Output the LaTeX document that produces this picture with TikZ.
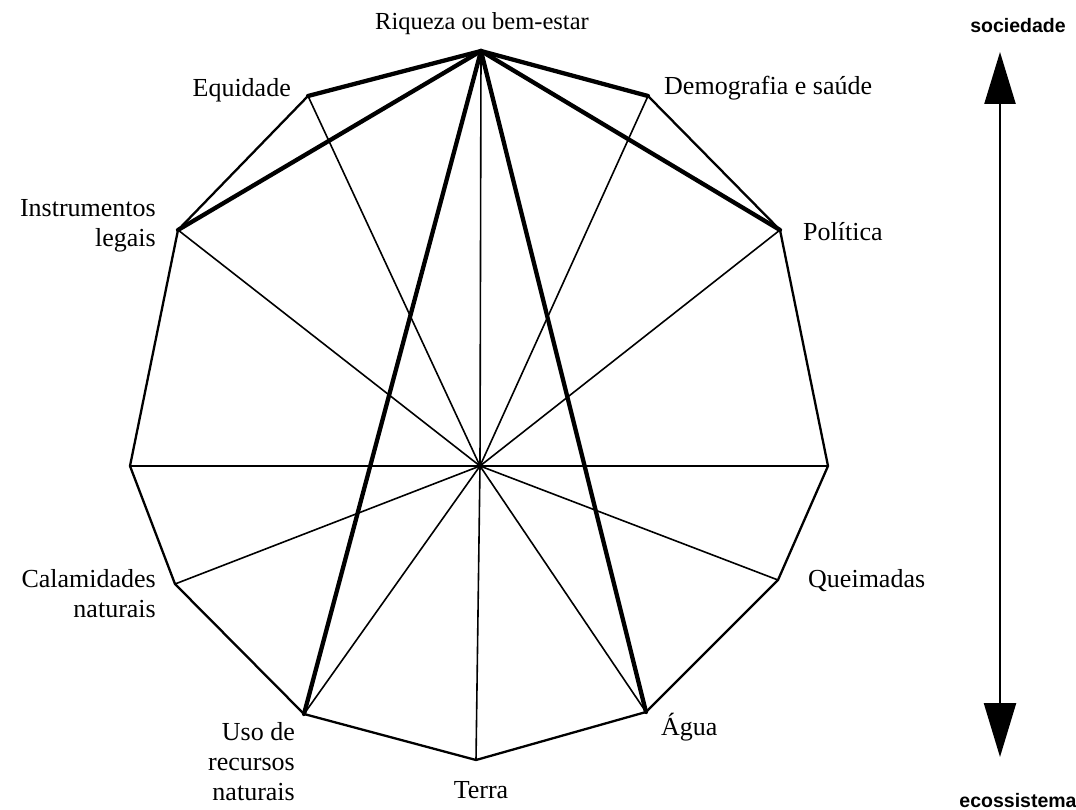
\documentclass[tikz,border=0pt]{standalone}
\usepackage{fontspec}
\setmainfont{Liberation Serif}
\setsansfont{Liberation Sans}
\usetikzlibrary{arrows.meta}
\begin{document}
\begin{tikzpicture}[x=1pt,y=-1pt,
  edge/.style={line width=2.3pt,line join=round},
  spoke/.style={line width=1.6pt},
  heavy/.style={line width=4.3pt,line cap=round},
  lbl/.style={font=\fontsize{26}{30}\selectfont,inner sep=0pt,align=right},
  lbll/.style={font=\fontsize{26}{30}\selectfont,inner sep=0pt,align=left},
  axislbl/.style={font=\sffamily\bfseries\fontsize{19.5}{22}\selectfont,inner sep=0pt}]
\useasboundingbox (0,0) rectangle (1076,810);

% vertices of the twelve-sided figure
\coordinate (c)  at (480,466);
\coordinate (v0) at (481,51);
\coordinate (v1) at (648,96);
\coordinate (v2) at (780,230);
\coordinate (v3) at (828,466);
\coordinate (v4) at (778,580);
\coordinate (v5) at (646,712);
\coordinate (v6) at (476,760);
\coordinate (v7) at (304,714);
\coordinate (v8) at (175,584);
\coordinate (v9) at (130,466);
\coordinate (v10) at (178,230);
\coordinate (v11) at (308,96);

% spokes
\foreach \i in {0,...,11} \draw[spoke] (c) -- (v\i);

% outline
\draw[edge] (v1) -- (v2) -- (v3) -- (v4) -- (v5) -- (v6) -- (v7) -- (v8) -- (v9) -- (v10) -- (v11);

% heavy links from the top vertex
\foreach \j in {1,2,5,7,10,11} \draw[heavy] (v0) -- (v\j);

% labels
\node[lbl,anchor=base,font=\fontsize{24.5}{30}\selectfont] (l0) at (482,30) {Riqueza ou bem-estar};
\node[lbll,anchor=west] (l1) at (664,88) {Demografia e saúde};
\node[lbll,anchor=west] (l2) at (803,232) {Política};
\node[lbll,anchor=west] (l4) at (808,581) {Queimadas};
\node[lbll,anchor=west] (l5) at (661,727) {Água};
\node[lbl,anchor=base] (l6) at (481,798) {Terra};
\node[lbl,anchor=north east] (l7) at (295,722) {Uso de\\recursos\\naturais};
\node[lbl,anchor=east] (l8) at (156,594) {Calamidades\\naturais};
\node[lbl,anchor=east] (l10) at (156,226) {Instrumentos\\legais};
\node[lbl,anchor=east] (l11) at (291,90) {Equidade};

% society / ecosystem axis
\node[axislbl,anchor=base] (soc) at (1018,33) {sociedade};
\node[axislbl,anchor=base] (eco) at (1018,807) {ecossistema};
\coordinate (atop) at (1000,52);
\coordinate (abot) at (1000,757);
\draw[line width=2.4pt,{Triangle[length=52pt,width=31pt]}-{Triangle[length=54pt,width=32pt]}] (atop) -- (abot);
\end{tikzpicture}
\end{document}
